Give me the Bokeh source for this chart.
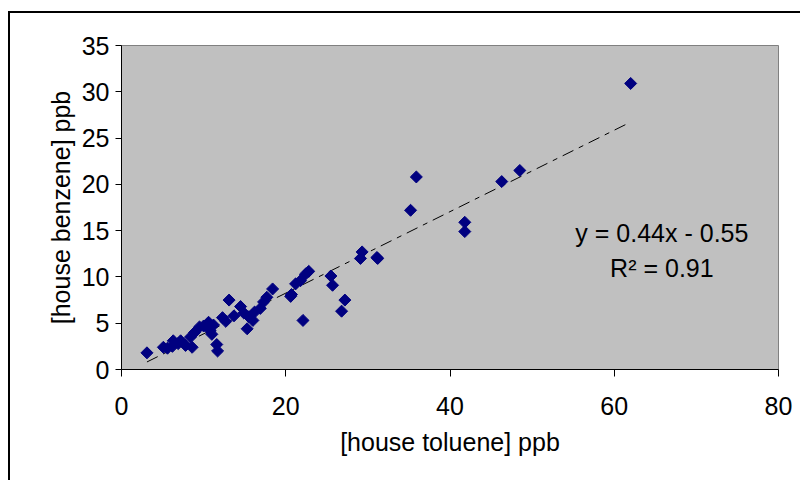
import numpy as np
from bokeh.plotting import figure
from bokeh.models import Range1d, Label, FixedTicker
from bokeh.embed import file_html
from bokeh.resources import INLINE

# ---- data ----
toluene = [3.1, 5.1, 5.6, 6.3, 6.2, 6.9, 7.2, 7.8, 8.4, 8.6, 8.9, 9.5, 10.0, 10.6,
           10.8, 11.0, 11.6, 11.7, 11.2, 12.3, 12.7, 13.1, 13.7, 14.5, 14.9, 15.3,
           15.5, 16.0, 16.2, 16.9, 17.3, 17.7, 18.4, 20.6, 20.7, 21.2, 21.8, 22.1,
           22.4, 22.8, 25.5, 25.7, 26.8, 27.2, 29.1, 29.3, 31.1, 31.2, 35.2, 35.9,
           41.8, 41.8, 46.3, 48.5, 62.0]
benzene = [1.8, 2.4, 2.3, 3.1, 2.5, 2.8, 3.1, 2.6, 3.5, 2.4, 4.0, 4.6, 4.7, 5.1,
           4.2, 3.8, 2.7, 2.0, 4.8, 5.6, 5.2, 7.5, 5.8, 6.8, 6.1, 4.4, 5.7, 5.3,
           6.2, 6.6, 7.3, 7.8, 8.7, 7.9, 8.1, 9.25, 9.6, 5.3, 10.3, 10.6, 10.1, 9.1,
           6.3, 7.5, 12.0, 12.7, 12.1, 12.0, 17.2, 20.8, 15.9, 14.9, 20.3, 21.5, 30.9]

trend_slope = 0.44
trend_intercept = -0.55
trend_x = [3.1, 62.0]
trend_y = [trend_slope * v + trend_intercept for v in trend_x]

x_ticks = [0, 20, 40, 60, 80]
y_ticks = [0, 5, 10, 15, 20, 25, 30, 35]

eq_text = "y = 0.44x - 0.55"
r2_text = "R\u00b2 = 0.91"

FONT = "Liberation Sans"
FS = "25px"

p = figure(width=800, height=480, x_range=Range1d(0, 80), y_range=Range1d(0, 35),
           output_backend="svg", toolbar_location=None,
           min_border_left=121, min_border_right=22, min_border_top=45,
           min_border_bottom=111)

p.background_fill_color = "#C0C0C0"
p.border_fill_color = "white"
p.border_fill_alpha = 0.0
p.outline_line_color = "#808080"
p.outline_line_width = 1
p.xgrid.visible = False
p.ygrid.visible = False

p.styles = {
    "background-color": "white",
    "background-image": "linear-gradient(black, black), linear-gradient(black, black)",
    "background-size": "2px 480px, 800px 2px",
    "background-position": "8px 11px, 8px 11px",
    "background-repeat": "no-repeat",
}

for ax in (p.xaxis[0], p.yaxis[0]):
    ax.axis_line_color = "black"
    ax.axis_line_width = 1
    ax.major_tick_line_color = "black"
    ax.major_tick_in = 0
    ax.minor_tick_line_color = None
    ax.major_label_text_font = FONT
    ax.major_label_text_font_size = FS
    ax.major_label_text_color = "black"
    ax.axis_label_text_font = FONT
    ax.axis_label_text_font_size = FS
    ax.axis_label_text_font_style = "normal"
    ax.axis_label_text_color = "black"

p.xaxis.major_tick_out = 7
p.yaxis.major_tick_out = 6
p.xaxis.ticker = FixedTicker(ticks=x_ticks)
p.yaxis.ticker = FixedTicker(ticks=y_ticks)
p.xaxis.axis_label = "[house toluene] ppb"
p.yaxis.axis_label = "[house benzene] ppb"
p.xaxis.major_label_standoff = 20
p.yaxis.major_label_standoff = 6
p.xaxis.axis_label_standoff = 10
p.yaxis.axis_label_standoff = 4

p.line(trend_x, trend_y, line_color="black", line_width=1, line_dash="12 6 5 6")
p.scatter(toluene, benzene, marker="square", angle=np.pi / 4, size=8.5,
          fill_color="#000080", line_color="#000080", line_width=1)

p.add_layout(Label(x=65.8, y=14.7, text=eq_text, text_align="center",
                   text_baseline="alphabetic", text_font=FONT, text_font_size=FS,
                   text_color="black"))
p.add_layout(Label(x=65.8, y=11.0, text=r2_text, text_align="center",
                   text_baseline="alphabetic", text_font=FONT, text_font_size=FS,
                   text_color="black"))

open("out.html", "w").write(file_html(p, INLINE))
